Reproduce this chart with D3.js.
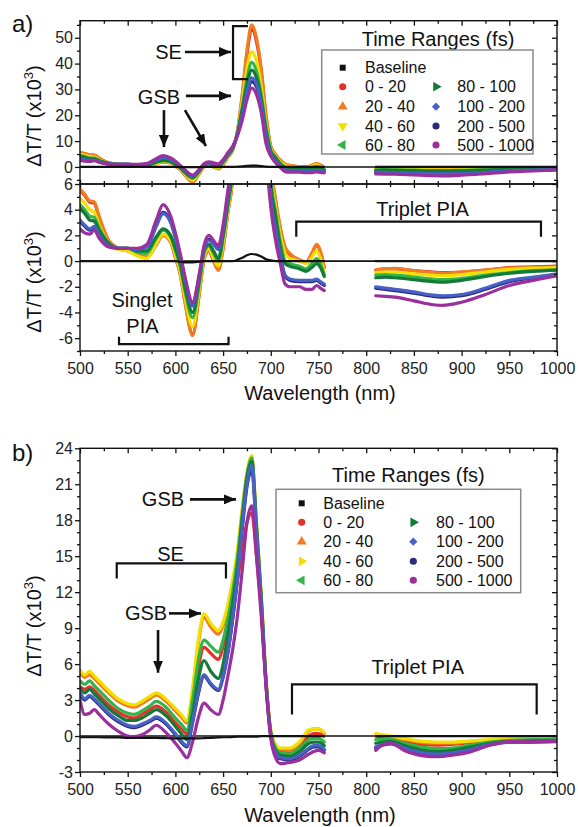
<!DOCTYPE html>
<html><head><meta charset="utf-8">
<script src="https://cdn.jsdelivr.net/npm/d3@7"></script>
<style>body{margin:0;background:#fff}</style>
</head><body>
<svg id="c" width="578" height="827"></svg>
<script>
// ---------------- DATA ----------------
const seriesNames = ["Baseline","0 - 20","20 - 40","40 - 60","60 - 80","80 - 100","100 - 200","200 - 500","500 - 1000"];
const xTicks = [500,550,600,650,700,750,800,850,900,950,1000];
const xMinor = [525,575,625,675,725,775,825,875,925,975];
const yTicksAU = [0,10,20,30,40,50];
const yMinorAU = [-5,5,15,25,35,45,55];
const yTicksAL = [-6,-4,-2,0,2,4,6];
const yMinorAL = [-7,-5,-3,-1,1,3,5];
const yTicksB = [-3,0,3,6,9,12,15,18,21,24];
const yMinorB = [-2,-1,1,2,4,5,7,8,10,11,13,14,16,17,19,20,22,23];

// panel a wavelengths (nm); 783 = gap in data
const wlA = [500,505,510,515,520,530,540,550,560,570,580,587,595,600,605,610,618,625,630,635,640,645,650,655,660,665,670,675,680,685,690,695,700,705,710,715,720,730,737,743,748,752,756,783,810,820,830,850,870,880,900,925,950,975,1000];
const aBaseline = [0,0,0,0,0,0,0,0,0,0,0,0,0,0,-0.05,-0.1,-0.1,-0.05,0,0,0,0,0,0,0,0.1,0.25,0.45,0.55,0.5,0.35,0.15,0.05,0,0,0,0,0,0,0,0,0,0,null,0,0,0,0,0,0,0,0,0,0,0];
const a0_20 = [5.5,5.1,4.6,4.5,3.4, 1.6,1.0,0.8,0.5,0.3, 1.3,2.0,1.5,0.3,-1.0, -3.1,-5.7,-2.5,0.1,0.8, 0.0,-0.7,1.0,3.8,6.5, 13.5,27,43.5,53.5,48.5, 37,19.5,7.8,4.7,2.5, 1.0,0.5,0.1,-0.1,0.6, 1.2,0.7,-0.5, null, -0.7,-0.6,-0.6,-0.75,-0.85, -0.9,-0.85,-0.7,-0.5,-0.45, -0.4];
const a20_40 = [5.6,5.2,4.7,4.6,3.5, 1.6,1.0,0.8,0.5,0.3, 1.3,2.0,1.5,0.3,-1.0, -3.2,-5.8,-2.6,0.1,0.8, 0.0,-0.7,1.0,3.8,6.5, 14,28,45,55,50, 38,20,8,4.8,2.6, 1.1,0.6,0.1,-0.1,0.6, 1.3,0.8,-0.5, null, -0.7,-0.6,-0.57,-0.75,-0.9, -0.95,-0.85,-0.7,-0.55,-0.5, -0.45];
const a40_60 = [4.9,4.5,4.0,3.8,2.8, 1.4,0.9,0.8,0.4,0.2, 1.4,2.1,1.6,0.5,-0.8, -2.8,-5.1,-2.2,0.3,1.0, 0.2,-0.4,1.4,4.0,6.8, 13.5,25,38,44.5,41, 31,17,7.0,4.2,2.0, 0.6,0.2,0.0,-0.2,0.3, 0.8,0.2,-0.9, null, -0.9,-0.85,-0.85,-1.0,-1.1, -1.15,-1.05,-0.85,-0.65,-0.55, -0.5];
const a60_80 = [4.4,4.0,3.5,3.4,2.6, 1.4,1.0,1.0,0.7,0.6, 1.8,2.4,1.9,0.8,-0.4, -2.3,-4.4,-1.8,0.6,1.2, 0.6,0.0,1.8,4.3,7.0, 13,23,34,40.5,37, 28,15.5,6.5,3.8,1.5, 0.0,-0.2,-0.4,-0.6,-0.2, 0.2,-0.2,-1.1, null, -1.1,-1.05,-1.1,-1.25,-1.4, -1.45,-1.35,-1.1,-0.9,-0.75, -0.7];
const a80_100 = [4.1,3.7,3.2,3.1,2.4, 1.4,1.0,1.0,0.8,0.8, 1.9,2.5,2.0,1.0,-0.2, -2.0,-4.0,-1.5,0.8,1.3, 0.8,0.2,2.0,4.5,7.2, 13,22,32,37.5,34.5, 26,14,6.0,3.5,1.0, -0.2,-0.4,-0.6,-0.8,-0.5, -0.2,-0.5,-1.2, null, -1.3,-1.25,-1.3,-1.45,-1.6, -1.65,-1.5,-1.2,-0.95,-0.8, -0.7];
const a100_200 = [3.2,2.8,2.5,2.7,2.0, 1.2,1.0,1.0,0.9,1.1, 2.7,3.7,3.0,1.8,0.4, -1.4,-3.5,-1.2,0.9,1.6, 1.3,0.9,2.4,5.0,7.5, 12.5,20,29,34.5,32, 24,12,5.0,2.5,0.5, -1.1,-1.4,-1.5,-1.5,-1.5, -1.4,-1.6,-1.8, null, -2.0,-2.1,-2.2,-2.4,-2.65, -2.7,-2.6,-2.1,-1.5,-1.25, -1.0];
const a200_500 = [3.1,2.7,2.4,2.6,1.95, 1.15,1.0,1.0,0.9,1.1, 2.8,3.8,3.1,1.9,0.4, -1.4,-3.4,-1.2,0.9,1.7, 1.35,0.95,2.5,5.1,7.6, 12.4,19.5,28,33,31, 23,11.5,4.8,2.3,0.4, -1.2,-1.5,-1.6,-1.6,-1.6, -1.5,-1.7,-1.9, null, -2.1,-2.2,-2.3,-2.5,-2.75, -2.8,-2.7,-2.2,-1.6,-1.3, -1.05];
const a500_1000 = [2.5,2.2,2.1,2.4,1.8, 1.1,1.0,1.0,1.0,1.3, 3.2,4.4,3.5,2.2,0.6, -1.2,-3.2,-1.0,1.2,2.0, 1.6,1.2,2.8,5.5,8.0, 12,18,26,30.5,28, 21,9,4.2,1.6,-0.2, -1.8,-2.0,-2.0,-2.2,-2.2, -1.9,-2.1,-2.3, null, -2.7,-2.75,-2.8,-3.1,-3.4, -3.45,-3.2,-2.6,-1.9,-1.5, -1.15];

// panel b wavelengths (nm); 783 = gap in data
const wlB = [500,505,510,515,520,530,540,550,557,565,573,580,590,600,606,612,618,624,630,637,645,650,655,660,665,670,675,680,685,690,695,700,705,710,720,730,740,745,750,756,783,810,818,826,840,860,875,890,910,930,950,975,1000];
const bBaseline = [-0.1,-0.1,-0.1,-0.1,-0.1, -0.12,-0.12,-0.15,-0.15,-0.15, -0.15,-0.15,-0.18,-0.2,-0.2, -0.2,-0.2,-0.2,-0.18,-0.15, -0.12,-0.1,-0.1,-0.08,-0.05, -0.05,-0.05,-0.05,-0.05,0, 0,0,0,0,0, 0,0,0,0,0, null, 0,0,0,0,0, 0,0,0,0,0, 0,0];
const b0_20 = [4.1,3.9,4.1,3.8,3.4, 2.6,2.0,1.6,1.5,1.8, 2.2,2.5,2.0,1.1,0.6, 0.2,2.6,5.7,7.4,6.9, 6.4,7.5,9.2,11.0,13.0, 15.5,17.8,18.6,15.0,10.5, 4.5,0.2,-1.0,-1.3,-1.3, -0.8,0.0,0.2,0.2,0.0, null, 0.0,-0.1,-0.1,-0.4,-0.7, -0.75,-0.7,-0.55,-0.4,-0.3, -0.25,-0.2];
const b20_40 = [5.3,4.9,5.1,4.8,4.4, 3.6,2.9,2.5,2.4,2.7, 3.1,3.4,2.9,2.1,1.6, 1.1,3.7,7.7,9.9,9.1, 8.5,9.2,10.8,12.8,15.2, 18.7,21.7,23.0,17.5,11.5, 4.7,0.4,-0.8,-1.1,-1.2, -0.6,0.4,0.6,0.6,0.2, null, 0.1,0.0,-0.1,-0.3,-0.55, -0.6,-0.6,-0.45,-0.35,-0.25, -0.2,-0.15];
const b40_60 = [5.5,5.1,5.4,5.0,4.6, 3.8,3.1,2.7,2.6,2.9, 3.3,3.6,3.1,2.3,1.8, 1.3,4.0,8.0,10.2,9.4, 8.8,9.5,11.0,13.0,15.5, 19.0,22.0,23.4,17.8,11.8, 4.8,0.5,-0.7,-1.0,-1.0, -0.5,0.5,0.6,0.6,0.3, null, 0.2,0.1,0.0,-0.2,-0.45, -0.5,-0.5,-0.4,-0.3,-0.2, -0.15,-0.1];
const b60_80 = [4.6,4.3,4.6,4.2,3.8, 3.0,2.3,1.9,1.8,2.1, 2.5,2.9,2.4,1.5,1.0, 0.5,3.0,6.3,8.0,7.5, 7.0,8.0,9.8,12.0,14.8, 18.5,21.8,23.2,17.6,11.6, 4.6,0.3,-1.0,-1.4,-1.5, -1.0,-0.3,-0.2,-0.2,-0.5, null, -0.3,-0.3,-0.3,-0.6,-0.95, -1.05,-1.0,-0.75,-0.5,-0.35, -0.3,-0.3];
const b80_100 = [4.0,3.6,3.9,3.5,3.1, 2.3,1.7,1.3,1.3,1.5, 1.9,2.2,1.7,0.8,0.2, -0.3,1.8,4.7,6.3,5.4, 4.8,6.0,8.5,11.0,14.0, 18.0,21.5,22.9,17.3,11.3, 4.5,0.2,-1.2,-1.6,-1.7, -1.3,-0.6,-0.5,-0.5,-0.8, null, -0.6,-0.5,-0.45,-0.8,-1.2, -1.3,-1.2,-0.9,-0.6,-0.45, -0.4,-0.35];
const b100_200 = [3.7,3.1,3.4,3.1,2.7, 1.9,1.3,0.9,0.8,1.0, 1.3,1.6,1.1,0.2,-0.4, -0.8,1.2,3.6,5.1,4.4, 3.9,5.0,7.0,9.8,13.2, 17.4,21.0,22.6,17.1,11.1, 4.4,0.1,-1.4,-1.8,-1.9, -1.6,-1.0,-0.8,-0.8,-1.1, null, -0.9,-0.7,-0.6,-1.0,-1.4, -1.5,-1.4,-1.1,-0.7,-0.5, -0.45,-0.4];
const b200_500 = [3.5,3.0,3.3,3.0,2.6, 1.8,1.2,0.8,0.7,0.9, 1.2,1.5,1.0,0.1,-0.5, -0.9,1.1,3.5,5.0,4.3, 3.8,4.9,6.9,9.7,13.0, 17.2,20.8,22.2,16.9,10.9, 4.3,0.0,-1.5,-1.9,-2.0, -1.7,-1.1,-0.9,-0.9,-1.2, null, -1.0,-0.75,-0.65,-1.1,-1.5, -1.6,-1.5,-1.2,-0.75,-0.5, -0.5,-0.45];
const b500_1000 = [3.0,1.8,1.9,2.2,1.8, 1.0,0.4,0.0,-0.05,0.1, 0.5,0.9,0.3,-0.6,-1.2, -1.8,-0.5,1.5,2.75,2.2, 1.8,3.0,5.0,7.2,10.0, 13.8,17.8,19.2,15.0,10.0, 4.1,-0.2,-1.8,-2.3,-2.2, -2.0,-1.5,-1.3,-1.2,-1.4, null, -1.2,-0.7,-0.6,-1.2,-1.65, -1.72,-1.6,-1.3,-0.75,-0.47, -0.47,-0.47];

// ---------------- STYLE / LAYOUT ----------------
const FONT = "'Liberation Sans', Arial, Helvetica, sans-serif";
const colors = ["#111111","#e4322b","#f17d22","#f3e000","#33b44a","#157a38","#4762c4","#2e2a7e","#9a2f9e"];
const markersA = [["square",0],["circle",0],["tri",0],["tri",180],["tri",-90],["tri",90],["diamond",45],["circle",0],["circle",0]];
const markersB = [["square",0],["circle",0],["tri",0],["tri",90],["tri",-90],["tri",90],["diamond",45],["circle",0],["circle",0]];

const svg = d3.select("#c");
const X0 = 80, X1 = 557;
const x = d3.scaleLinear().domain([500,1000]).range([X0,X1]);
const yAU = d3.scaleLinear().domain([-6.6,56.6]).range([184,20.7]);
const yAL = d3.scaleLinear().domain([-7,6]).range([351,184]);
const yB = d3.scaleLinear().domain([-3,24]).range([772,448.3]);

const defs = svg.append("defs");
function clip(id, y){
  defs.append("clipPath").attr("id",id).append("rect")
    .attr("x",X0).attr("y",y.range()[1]).attr("width",X1-X0).attr("height",y.range()[0]-y.range()[1]);
}
clip("cAU",yAU); clip("cAL",yAL); clip("cB",yB);
defs.append("marker").attr("id","ah").attr("viewBox","0 0 12 10").attr("refX",12).attr("refY",5)
  .attr("markerWidth",12).attr("markerHeight",10).attr("markerUnits","userSpaceOnUse").attr("orient","auto")
  .append("path").attr("d","M0,0 L12,5 L0,10 Z").attr("fill","#111");

// ---------------- SERIES ----------------
function drawSeries(wl, arrs, y, clipId){
  const g = svg.append("g").attr("clip-path",`url(#${clipId})`);
  g.append("line").attr("x1",X0).attr("x2",X1).attr("y1",y(0)).attr("y2",y(0)).attr("stroke","#111").attr("stroke-width",1.6);
  const line = d3.line().defined(d=>d[1]!=null).x(d=>x(d[0])).y(d=>y(d[1])).curve(d3.curveMonotoneX);
  const order = [7,1,2,3,4,5,6,8,0];
  order.forEach(i=>{
    g.append("path").datum(wl.map((w,k)=>[w,arrs[i][k]]))
      .attr("d",line).attr("fill","none").attr("stroke",colors[i])
      .attr("stroke-width", i===0 ? 2.2 : 3.2).attr("stroke-linejoin","round").attr("stroke-linecap","round");
  });
}
const A = [aBaseline,a0_20,a20_40,a40_60,a60_80,a80_100,a100_200,a200_500,a500_1000];
const B = [bBaseline,b0_20,b20_40,b40_60,b60_80,b80_100,b100_200,b200_500,b500_1000];
drawSeries(wlA, A, yAU, "cAU");
drawSeries(wlA, A, yAL, "cAL");
drawSeries(wlB, B, yB, "cB");

// ---------------- AXES ----------------
function ax(gen, tx, ty, ticks, size, labels, pad){
  const g = svg.append("g").attr("transform",`translate(${tx},${ty})`)
    .call(gen.tickValues(ticks).tickSizeInner(size).tickSizeOuter(0).tickPadding(pad||2)
      .tickFormat(labels ? (d=>String(d)) : ""));
  g.select(".domain").remove();
  g.selectAll("line").attr("stroke","#111").attr("stroke-width",1.3);
  g.selectAll("text").attr("font-size",16).attr("font-family",FONT).attr("fill","#222");
  return g;
}
function frame(y){
  const [b,t] = y.range();
  svg.append("rect").attr("x",X0).attr("y",t).attr("width",X1-X0).attr("height",b-t)
    .attr("fill","none").attr("stroke","#111").attr("stroke-width",1.4);
}
function yAxes(y, major, minor){
  ax(d3.axisLeft(y), X0, 0, major, 5, true, 2);
  ax(d3.axisLeft(y), X0, 0, minor, 3, false);
  ax(d3.axisLeft(y), X1, 0, major, 5, false);
  ax(d3.axisLeft(y), X1, 0, minor, 3, false);
}
// panel a upper
frame(yAU); yAxes(yAU, yTicksAU, yMinorAU);
ax(d3.axisBottom(x), 0, yAU.range()[1], xTicks, 5, false);
ax(d3.axisBottom(x), 0, yAU.range()[1], xMinor, 3, false);
ax(d3.axisTop(x), 0, yAU.range()[0], xTicks, 4, false);
ax(d3.axisTop(x), 0, yAU.range()[0], xMinor, 3, false);
// panel a lower
frame(yAL); yAxes(yAL, yTicksAL, yMinorAL);
ax(d3.axisBottom(x), 0, yAL.range()[1], xTicks, 4, false);
ax(d3.axisBottom(x), 0, yAL.range()[1], xMinor, 3, false);
ax(d3.axisBottom(x), 0, yAL.range()[0], xTicks, 5, true, 7);
ax(d3.axisBottom(x), 0, yAL.range()[0], xMinor, 3, false);
// panel b
frame(yB); yAxes(yB, yTicksB, yMinorB);
ax(d3.axisBottom(x), 0, yB.range()[1], xTicks, 5, false);
ax(d3.axisBottom(x), 0, yB.range()[1], xMinor, 3, false);
ax(d3.axisBottom(x), 0, yB.range()[0], xTicks, 5, true, 7);
ax(d3.axisBottom(x), 0, yB.range()[0], xMinor, 3, false);

// ---------------- TITLES ----------------
function txt(s, px, py, size, anchor){
  return svg.append("text").attr("x",px).attr("y",py).attr("font-size",size).attr("font-family",FONT)
    .attr("fill","#111").attr("text-anchor",anchor||"middle").text(s);
}
function yTitle(cx, cy){
  const t = svg.append("text").attr("transform",`translate(${cx},${cy}) rotate(-90)`)
    .attr("text-anchor","middle").attr("font-size",20).attr("font-family",FONT).attr("fill","#111");
  t.append("tspan").text("ΔT/T (x10");
  t.append("tspan").attr("dy",-8).attr("font-size",13).text("3");
  t.append("tspan").attr("dy",8).text(")");
}
yTitle(41,116); yTitle(41,282); yTitle(41,626);
txt("Wavelength (nm)", 320, 400, 20);
txt("Wavelength (nm)", 320, 822, 20);
txt("a)", 12, 32, 24, "start");
txt("b)", 12, 461, 24, "start");

// ---------------- ANNOTATIONS (data coords) ----------------
function atext(s, w, v, y){ txt(s, x(w), y(v), 20).attr("dy","0.35em"); }
function arrow(w1,v1,w2,v2,y){
  svg.append("line").attr("x1",x(w1)).attr("y1",y(v1)).attr("x2",x(w2)).attr("y2",y(v2))
    .attr("stroke","#111").attr("stroke-width",2.6).attr("marker-end","url(#ah)");
}
function bracket(pts, y){
  svg.append("path").attr("d", d3.line().x(p=>x(p[0])).y(p=>y(p[1]))(pts))
    .attr("fill","none").attr("stroke","#111").attr("stroke-width",2.2);
}
// a upper
atext("SE", 592.8, 44.5, yAU); arrow(610,44.5,658.3,44.5,yAU);
bracket([[676,54.5],[660.4,54.5],[660.4,34],[676,34]], yAU);
atext("GSB", 582.8, 27.1, yAU); arrow(611,27.5,658.3,27.5,yAU);
arrow(588,22,588,7.7,yAU); arrow(610,22,632,8.1,yAU);
// a lower
atext("Triplet PIA", 859, 4.09, yAL);
bracket([[726.7,1.9],[726.7,3.07],[983.2,3.07],[983.2,1.9]], yAL);
atext("Singlet", 565, -3.04, yAL); atext("PIA", 565.5, -5.03, yAL);
bracket([[540.9,-5.89],[540.9,-6.46],[655.7,-6.46],[655.7,-5.89]], yAL);
// b
atext("GSB", 587, 19.77, yB); arrow(615.3,19.74,663.5,19.74,yB);
atext("SE", 594.9, 15.2, yB);
bracket([[538.5,13.15],[538.5,14.4],[653,14.4],[653,13.15]], yB);
atext("GSB", 569.2, 10.26, yB); arrow(593.3,10.23,626.8,10.23,yB);
arrow(581.8,8.84,581.8,5.28,yB);
atext("Triplet PIA", 854, 5.75, yB);
bracket([[722.2,1.79],[722.2,4.31],[978.7,4.31],[978.7,1.79]], yB);

// ---------------- LEGENDS ----------------
const symT = {square:d3.symbolSquare, circle:d3.symbolCircle, tri:d3.symbolTriangle, diamond:d3.symbolSquare};
const symSize = {square:36, circle:40, tri:42, diamond:34};
function legend(L, markers){
  txt("Time Ranges (fs)", L.titleX, L.titleY, 20);
  svg.append("rect").attr("x",L.bx).attr("y",L.by).attr("width",L.bw).attr("height",L.bh)
    .attr("fill","#fff").attr("stroke","#8a8a8a").attr("stroke-width",1.5);
  seriesNames.forEach((n,i)=>{
    const col = i<5 ? 0 : 1;
    const row = i<5 ? i : i-4;
    const mx = col ? L.mx2 : L.mx1, tx = col ? L.tx2 : L.tx1, cy = L.rows[row];
    const [shape, rot] = markers[i];
    svg.append("path").attr("d", d3.symbol(symT[shape], symSize[shape])())
      .attr("transform",`translate(${mx},${cy}) rotate(${rot})`).attr("fill",colors[i]);
    txt(n, tx, cy, 16, "start").attr("dy","0.35em");
  });
}
legend({titleX:438,titleY:46,bx:321.7,by:50,bw:211.3,bh:104,rows:[67.7,86.7,106.7,126,145],mx1:342.7,tx1:365,mx2:436,tx2:457.3}, markersA);
legend({titleX:408.3,titleY:482,bx:276,by:489.3,bw:244.7,bh:103.4,rows:[503.3,522.3,541.7,561.3,580.3],mx1:301.7,tx1:323.3,mx2:413.3,tx2:436}, markersB);
</script>
</body></html>
